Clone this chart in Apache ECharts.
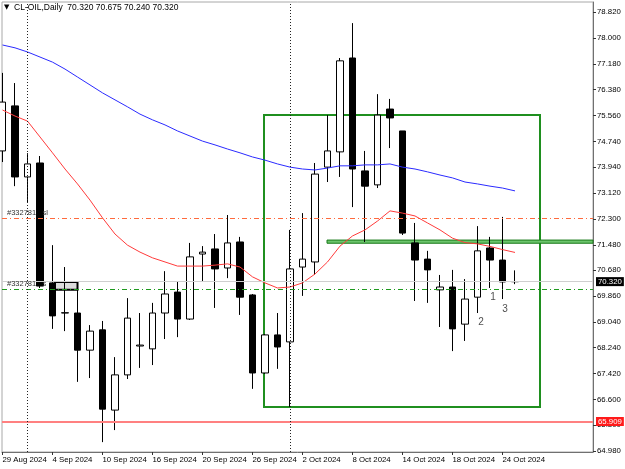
<!DOCTYPE html>
<html>
<head>
<meta charset="utf-8">
<script src="https://cdn.jsdelivr.net/npm/echarts@6/dist/echarts.min.js"></script>
<style>
html,body{margin:0;padding:0;background:#fff;}
#chart{width:625px;height:469px;}
</style>
</head>
<body>
<div id="chart"></div>
<script>
// CL-OIL daily bars
var dates = ['29 Aug 2024','30 Aug 2024','2 Sep 2024','3 Sep 2024','4 Sep 2024','5 Sep 2024','6 Sep 2024',
  '9 Sep 2024','10 Sep 2024','11 Sep 2024','12 Sep 2024','13 Sep 2024','16 Sep 2024','17 Sep 2024',
  '18 Sep 2024','19 Sep 2024','20 Sep 2024','23 Sep 2024','24 Sep 2024','25 Sep 2024','26 Sep 2024',
  '27 Sep 2024','30 Sep 2024','1 Oct 2024','2 Oct 2024','3 Oct 2024','4 Oct 2024','7 Oct 2024',
  '8 Oct 2024','9 Oct 2024','10 Oct 2024','11 Oct 2024','14 Oct 2024','15 Oct 2024','16 Oct 2024',
  '17 Oct 2024','18 Oct 2024','21 Oct 2024','22 Oct 2024','23 Oct 2024','24 Oct 2024','25 Oct 2024'];

var opens  = [74.44,75.86,73.62,74.06,70.28,69.33,69.33,68.16,68.80,66.27,67.38,68.29,68.20,69.33,
  69.99,69.14,71.19,71.35,70.75,71.57,69.90,67.44,68.64,68.42,70.78,70.94,73.93,74.41,77.37,73.81,
  73.37,75.76,75.07,71.54,71.03,70.06,70.15,68.98,69.83,71.38,71.00,70.32];
var highs  = [76.90,76.58,74.37,74.28,71.47,70.78,70.06,68.95,69.08,67.94,69.80,69.33,69.65,70.65,
  70.31,71.54,71.44,71.82,72.42,71.73,69.93,68.67,69.33,71.95,72.48,74.06,75.57,77.37,78.47,74.44,
  76.23,76.08,75.07,72.17,71.29,70.53,70.69,70.40,72.07,71.73,72.36,70.675];
var lows   = [74.09,73.33,72.80,70.12,68.83,68.76,67.16,67.28,65.26,65.64,67.25,67.60,67.69,68.51,
  68.57,69.11,70.34,69.49,70.43,69.27,66.94,67.41,67.57,66.37,69.87,70.53,73.46,73.62,72.67,71.57,
  73.27,74.53,71.79,69.71,69.65,68.89,68.13,68.45,69.33,70.12,69.77,70.24];
var closes = [75.98,73.62,74.03,70.18,69.24,69.34,68.16,68.76,66.30,67.38,69.17,68.32,69.33,69.93,
  69.14,71.10,71.25,70.72,71.54,69.83,67.44,68.64,68.26,70.72,71.03,73.71,74.44,77.28,73.87,73.33,
  75.57,75.48,71.85,71.00,70.69,70.15,68.83,69.77,71.29,71.00,70.31,70.32];

// moving averages
var maBlue = [77.78,77.69,77.56,77.40,77.24,77.02,76.77,76.52,76.27,76.05,75.83,75.60,75.42,75.26,
  75.07,74.91,74.75,74.63,74.50,74.38,74.25,74.15,74.03,73.93,73.87,73.84,73.90,73.97,73.97,74.00,
  74.00,74.03,73.93,73.87,73.78,73.68,73.59,73.46,73.40,73.33,73.27,73.18];
var maRed  = [75.73,75.54,75.38,74.88,74.38,73.87,73.40,72.89,72.33,71.82,71.47,71.25,71.07,70.94,
  70.81,70.81,70.81,70.84,70.88,70.78,70.47,70.28,70.12,70.15,70.28,70.56,70.94,71.44,71.76,71.95,
  72.23,72.55,72.48,72.39,72.17,71.95,71.69,71.55,71.51,71.43,71.33,71.24];

// axis ticks
var priceTicks = [64.98,65.80,66.60,67.42,68.24,69.04,69.86,70.68,71.48,72.30,73.12,73.94,74.74,
  75.56,76.38,77.18,78.00,78.82];
var dateTicks = [0,4,8,12,16,20,24,28,32,36,40];

// objects on the chart
var separators = [2, 23];
var slLevel = 72.33, orderLevel = 70.09, bidLevel = 70.32, alertLevel = 65.909;
var boxX = [20.92, 43.0], boxY = [75.57, 66.37];
var bandX = [25.96, 47.24], bandY = [71.63, 71.53];
var markerX = [4.2, 6.0], markerY = [70.31, 70.06];
var waveNames = ['1','2','3'];
var waveX = [39.24, 38.28, 40.2];
var waveY = [69.84, 69.05, 69.46];

var FONT = '"Liberation Sans", "DejaVu Sans", sans-serif';
var last = dates.length - 1;
var header = 'CL-OIL,Daily  ' + opens[last].toFixed(3) + ' ' + highs[last].toFixed(3) + ' ' +
  lows[last].toFixed(3) + ' ' + closes[last].toFixed(3);

var candles = dates.map(function (d, i) {
  return [i, opens[i], closes[i], lows[i], highs[i]];
});
var blueLine = maBlue.map(function (v, i) { return [i, v]; });
var redLine = maRed.map(function (v, i) { return [i, v]; });
var waves = waveNames.map(function (n, i) { return [waveX[i], waveY[i], n]; });

var dashDot = [5, 3, 1, 3];

var chart = echarts.init(document.getElementById('chart'));
chart.setOption({
  animation: false,
  backgroundColor: '#fff',
  textStyle: {fontFamily: FONT},
  grid: {left: 2, right: 32, top: 2, bottom: 17, show: true, borderColor: '#a8a8a8',
         borderWidth: 1, outerBoundsMode: 'none'},
  graphic: [
    {type: 'text', left: 4, top: 4, style: {text: '\u25BC', fontSize: 7, fontFamily: '"DejaVu Sans"', fill: '#000'}},
    {type: 'text', left: 14, top: 3, style: {text: header, fontSize: 8.5, fontFamily: FONT, fill: '#000'}}
  ],
  xAxis: {
    type: 'value', min: -0.04, max: 47.24,
    splitLine: {show: false},
    axisLine: {onZero: false, lineStyle: {color: '#707070'}},
    axisTick: {customValues: dateTicks, length: 3, lineStyle: {color: '#333'}},
    axisLabel: {customValues: dateTicks, align: 'left', margin: 4, fontSize: 7.8, color: '#000',
      fontFamily: FONT, formatter: function (v) { return dates[v]; }}
  },
  yAxis: {
    type: 'value', position: 'right', min: 64.949, max: 79.135,
    splitLine: {show: false},
    axisLine: {show: true, onZero: false, lineStyle: {color: '#707070'}},
    axisTick: {show: true, customValues: priceTicks, length: 3, lineStyle: {color: '#333'}},
    axisLabel: {customValues: priceTicks, margin: 4, fontSize: 7.8, color: '#000', fontFamily: FONT,
      formatter: function (v) { return v.toFixed(3); }}
  },
  series: [
    {
      type: 'candlestick',
      z: 2,
      barWidth: 7,
      data: candles,
      itemStyle: {color: '#fff', color0: '#000', borderColor: '#000', borderColor0: '#000', borderWidth: 1},
      markLine: {
        silent: true,
        symbol: ['none', 'none'],
        data: [
          {yAxis: slLevel, lineStyle: {color: '#ff6a3d', type: dashDot, width: 1},
            label: {show: true, position: 'insideStartTop', distance: [5, 1], formatter: '#332781   sl',
              color: '#333', fontSize: 7.5, fontFamily: FONT}},
          {yAxis: bidLevel, lineStyle: {color: '#cfcfcf', type: 'solid', width: 1},
            label: {show: true, position: 'end', distance: 3, formatter: bidLevel.toFixed(3),
              color: '#fff', backgroundColor: '#000', padding: [1, 2, 0, 2], fontSize: 7.8, fontFamily: FONT}},
          {yAxis: orderLevel, lineStyle: {color: '#1f9a1f', type: dashDot, width: 1},
            label: {show: true, position: 'insideStartTop', distance: [5, 1], formatter: '#332781   s',
              color: '#333', fontSize: 7.5, fontFamily: FONT}},
          {yAxis: alertLevel, lineStyle: {color: '#ff8080', type: 'solid', width: 2},
            label: {show: true, position: 'end', distance: 3, formatter: alertLevel.toFixed(3),
              color: '#fff', backgroundColor: '#ff1a1a', padding: [1, 2, 0, 2], fontSize: 7.8, fontFamily: FONT}},
          {xAxis: separators[0], lineStyle: {color: '#222', type: [1, 2], width: 1}, label: {show: false}},
          {xAxis: separators[1], lineStyle: {color: '#222', type: [1, 2], width: 1}, label: {show: false}}
        ]
      }
    },
    {
      type: 'line', z: 3, data: redLine, showSymbol: false, symbol: 'none',
      lineStyle: {color: '#ff3b3b', width: 1}
    },
    {
      type: 'line', z: 4, data: blueLine, showSymbol: false, symbol: 'none',
      lineStyle: {color: '#2b2bff', width: 1},
      markArea: {
        silent: true,
        label: {show: false},
        data: [
          [{xAxis: boxX[0], yAxis: boxY[0], itemStyle: {color: 'rgba(0,0,0,0)', borderColor: '#1f8f1f', borderWidth: 2}},
           {xAxis: boxX[1], yAxis: boxY[1]}],
          [{xAxis: bandX[0], yAxis: bandY[0], itemStyle: {color: '#6cc46c', borderColor: '#1a7a1a', borderWidth: 1}},
           {xAxis: bandX[1], yAxis: bandY[1]}],
          [{xAxis: markerX[0], yAxis: markerY[0], itemStyle: {color: '#dcdcdc', borderColor: '#000', borderWidth: 2}},
           {xAxis: markerX[1], yAxis: markerY[1]}]
        ]
      }
    },
    {
      type: 'scatter', z: 5, data: waves, symbolSize: 0, silent: true,
      label: {show: true, position: 'inside', color: '#222', fontSize: 10, fontFamily: FONT,
        formatter: function (p) { return p.value[2]; }}
    }
  ]
});
</script>
</body>
</html>
